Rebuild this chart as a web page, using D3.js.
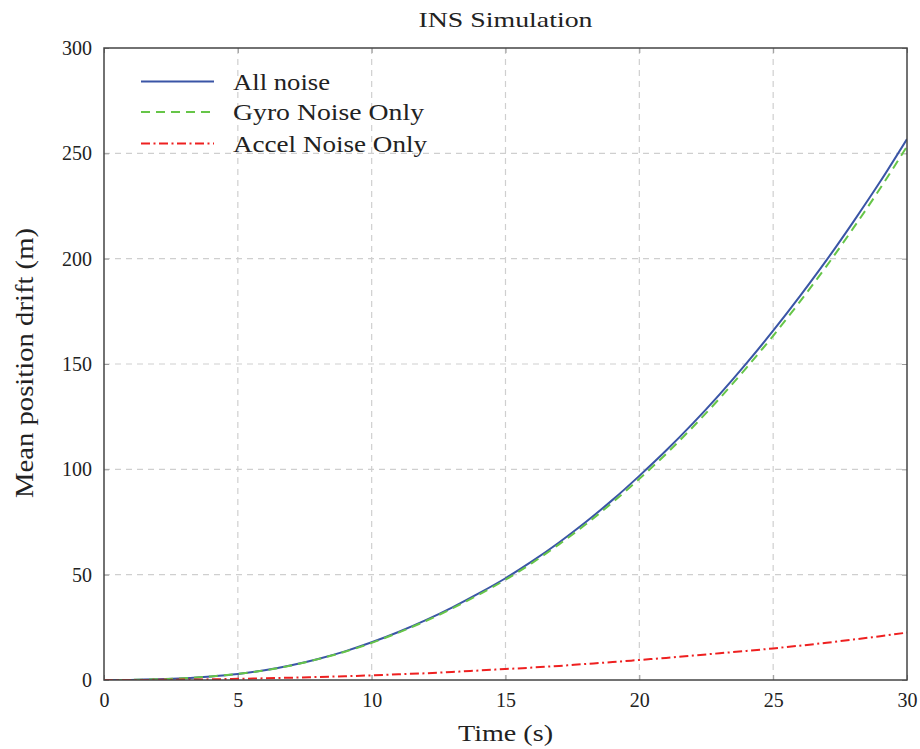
<!DOCTYPE html>
<html>
<head>
<meta charset="utf-8">
<script src="https://cdn.jsdelivr.net/npm/d3@7"></script>
<style>
  body { margin: 0; background: #fff; }
</style>
</head>
<body>
<svg id="chart" width="920" height="749"></svg>
<script>
// ---- data ----
const time = [0,1,2,3,4,5,6,7,8,9,10,11,12,13,14,15,16,17,18,19,20,21,22,23,24,25,26,27,28,29,30];
const allNoise = [0,0.05,0.3,0.8,1.7,2.9,4.6,7.0,10.0,13.6,17.9,22.8,28.3,34.4,41.1,48.3,56.4,65.3,75.0,85.5,96.9,108.9,121.8,135.6,150.3,165.8,182.2,199.4,217.6,236.6,256.8];
const gyroOnly = [0,0.05,0.3,0.8,1.7,2.9,4.5,6.9,9.9,13.4,17.6,22.5,27.9,33.9,40.5,47.6,55.6,64.4,73.9,84.3,95.5,107.3,120.1,133.7,148.2,163.4,179.6,196.6,214.6,233.4,253.3];
const accelOnly = [0,0.02,0.08,0.18,0.32,0.55,0.8,1.1,1.45,1.8,2.2,2.7,3.2,3.8,4.5,5.2,5.9,6.7,7.6,8.5,9.5,10.5,11.6,12.7,13.8,15.0,16.3,17.7,19.2,20.8,22.5];
const xTicks = [0,5,10,15,20,25,30];
const yTicks = [0,50,100,150,200,250,300];
const seriesNames = ["All noise","Gyro Noise Only","Accel Noise Only"];
const seriesValues = [allNoise, gyroOnly, accelOnly];
const seriesColors = ["#3a55a6","#66c548","#ee2020"];
const seriesDash = [null, "9,6", "9,3.5,2,3.5"];

const FONT = '"Liberation Serif", "Times New Roman", serif';

// ---- layout ----
const svg = d3.select("#chart").attr("font-family", FONT);
const L = 104, T = 48, W = 803, H = 632;
const x = d3.scaleLinear().domain([0,30]).range([L, L+W]);
const y = d3.scaleLinear().domain([0,300]).range([T+H, T]);

// grid
const grid = svg.append("g");
grid.selectAll(".vg").data(xTicks.slice(1,-1)).enter().append("line")
  .attr("x1", d=>x(d)).attr("x2", d=>x(d)).attr("y1", T).attr("y2", T+H)
  .attr("stroke", "#cfcfcf").attr("stroke-width", 1.2).attr("stroke-dasharray", "6,5");
grid.selectAll(".hg").data(yTicks.slice(1,-1)).enter().append("line")
  .attr("y1", d=>y(d)).attr("y2", d=>y(d)).attr("x1", L).attr("x2", L+W)
  .attr("stroke", "#cfcfcf").attr("stroke-width", 1.2).attr("stroke-dasharray", "6,5");

// axes (inner ticks on all sides)
const tickLen = 5;
const axB = d3.axisBottom(x).tickValues(xTicks).tickSize(-tickLen).tickPadding(13).tickFormat(d3.format("d"));
const axT = d3.axisTop(x).tickValues(xTicks).tickSize(-tickLen).tickFormat("");
const axLft = d3.axisLeft(y).tickValues(yTicks).tickSize(-tickLen).tickPadding(12).tickFormat(d3.format("d"));
const axR = d3.axisRight(y).tickValues(yTicks).tickSize(-tickLen).tickFormat("");
function styleAxis(g){
  g.attr("font-family", FONT).attr("font-size", 20);
  g.select(".domain").remove();
  g.selectAll(".tick line").attr("stroke", "#9a9a9a").attr("stroke-width", 1);
  g.selectAll(".tick text").attr("fill", "#222").attr("font-family", FONT).attr("font-size", 20);
}
svg.append("g").attr("transform", `translate(0,${T+H})`).call(axB).call(styleAxis);
svg.append("g").attr("transform", `translate(0,${T})`).call(axT).call(styleAxis);
svg.append("g").attr("transform", `translate(${L},0)`).call(axLft).call(styleAxis);
svg.append("g").attr("transform", `translate(${L+W},0)`).call(axR).call(styleAxis);

// clip
svg.append("clipPath").attr("id","clip").append("rect").attr("x",L).attr("y",T).attr("width",W).attr("height",H);

// lines
const line = d3.line().x((d,i)=>x(time[i])).y(d=>y(d)).curve(d3.curveMonotoneX);
const plotG = svg.append("g").attr("clip-path","url(#clip)");
[0,1,2].forEach(k=>{
  plotG.append("path").datum(seriesValues[k])
    .attr("d", line).attr("fill","none")
    .attr("stroke", seriesColors[k]).attr("stroke-width", 2)
    .attr("stroke-dasharray", seriesDash[k]);
});

// frame
svg.append("rect").attr("x",L).attr("y",T).attr("width",W).attr("height",H)
  .attr("fill","none").attr("stroke","#444").attr("stroke-width",1.5);

// legend
const legY = [81.5, 112, 143.5];
const leg = svg.append("g");
seriesNames.forEach((name,k)=>{
  leg.append("line").attr("x1",141).attr("x2",214).attr("y1",legY[k]).attr("y2",legY[k])
    .attr("stroke", seriesColors[k]).attr("stroke-width",2).attr("stroke-dasharray", seriesDash[k]);
  leg.append("text").attr("x",233).attr("y",legY[k]+8).attr("font-size",23).attr("fill","#222")
    .attr("font-family", FONT)
    .attr("textLength", [97,191,194][k]).attr("lengthAdjust","spacingAndGlyphs").text(name);
});

// title and axis labels
svg.append("text").attr("x", L+W/2).attr("y", 27).attr("text-anchor","middle").attr("fill","#222")
  .attr("font-family", FONT).attr("font-size", 22).attr("textLength",174).attr("lengthAdjust","spacingAndGlyphs").text("INS Simulation");
svg.append("text").attr("x", L+W/2).attr("y", 741).attr("text-anchor","middle").attr("fill","#222")
  .attr("font-family", FONT).attr("font-size", 24).attr("textLength",95).attr("lengthAdjust","spacingAndGlyphs").text("Time (s)");
svg.append("text").attr("transform", `translate(33,363) rotate(-90)`).attr("text-anchor","middle").attr("fill","#222")
  .attr("font-family", FONT).attr("font-size", 25).attr("textLength",270).attr("lengthAdjust","spacingAndGlyphs").text("Mean position drift (m)");
</script>
</body>
</html>
